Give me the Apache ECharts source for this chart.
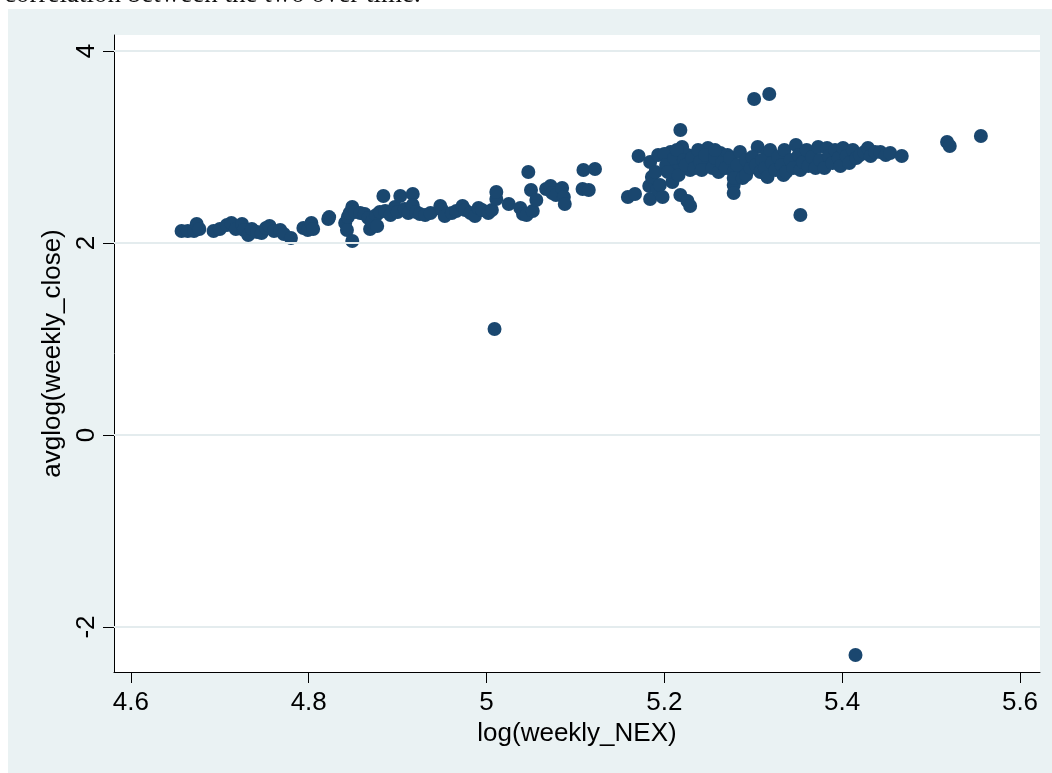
<!DOCTYPE html>
<html>
<head>
<meta charset="utf-8">
<script src="https://cdn.jsdelivr.net/npm/echarts@6/dist/echarts.min.js"></script>
<style>
html,body{margin:0;padding:0;background:#fff;}
#c{width:1052px;height:773px;}
</style>
</head>
<body>
<div id="c"></div>
<script>
// ---- data ----
const xTicks = [4.6, 4.8, 5.0, 5.2, 5.4, 5.6];
const yTicks = [-2, 0, 2, 4];
const xTitle = 'log(weekly_NEX)';
const yTitle = 'avglog(weekly_close)';
const topText = 'correlation between the two over time.';

// low-NEX cluster
const clusterA = [
  [4.657,2.125],[4.664,2.125],[4.671,2.125],[4.674,2.198],[4.677,2.146],[4.693,2.125],
  [4.700,2.146],[4.708,2.188],[4.713,2.208],[4.718,2.146],[4.725,2.198],[4.727,2.135],
  [4.732,2.083],[4.736,2.146],[4.742,2.115],[4.747,2.104],[4.752,2.156],[4.756,2.177],
  [4.761,2.125],[4.768,2.135],[4.772,2.094],[4.780,2.052],[4.794,2.156],[4.799,2.135],
  [4.803,2.208],[4.805,2.146],[4.822,2.250],[4.823,2.270]
];
// middle cluster
const clusterB = [
  [4.841,2.208],[4.843,2.135],[4.844,2.271],[4.846,2.313],[4.849,2.375],[4.849,2.021],
  [4.852,2.323],[4.858,2.313],[4.863,2.302],[4.867,2.260],[4.869,2.146],[4.871,2.219],
  [4.876,2.292],[4.877,2.177],[4.880,2.323],[4.884,2.490],[4.886,2.333],[4.892,2.292],
  [4.897,2.375],[4.900,2.323],[4.903,2.490],[4.908,2.354],[4.912,2.313],[4.917,2.510],
  [4.917,2.396],[4.921,2.323],[4.925,2.302],[4.931,2.292],[4.937,2.313],[4.948,2.385],
  [4.950,2.344],[4.953,2.281],[4.961,2.313],[4.966,2.333],[4.973,2.385],[4.976,2.344],
  [4.982,2.313],[4.987,2.281],[4.991,2.365],[4.995,2.344],[5.002,2.313],[5.006,2.344],
  [5.011,2.458],[5.011,2.531],[5.009,1.104]
];
// rising section
const clusterC = [
  [5.025,2.406],[5.038,2.365],[5.041,2.302],[5.045,2.292],[5.047,2.740],[5.050,2.552],
  [5.052,2.333],[5.056,2.448],[5.067,2.563],[5.072,2.594],[5.074,2.521],[5.078,2.500],
  [5.085,2.573],[5.087,2.479],[5.088,2.406],[5.109,2.760],[5.122,2.771],[5.108,2.563],
  [5.115,2.552],[5.159,2.479],[5.167,2.510],[5.171,2.906],[5.184,2.844],[5.183,2.594],
  [5.184,2.458],[5.186,2.688],[5.190,2.740],[5.192,2.563],[5.193,2.917],[5.195,2.604],
  [5.198,2.479],[5.207,2.948],[5.209,2.635],[5.213,2.792],[5.218,3.177],[5.218,2.500],
  [5.220,3.000],[5.226,2.438],[5.229,2.385],[5.226,2.917],[5.229,2.760],[5.237,2.938],
  [5.249,2.990],[5.252,2.833],[5.263,2.938],[5.271,2.917],[5.278,2.604],[5.278,2.521],
  [5.289,2.729],[5.305,3.000],[5.316,2.938],[5.301,3.500],[5.318,3.552],[5.353,2.292],
  [5.415,-2.292]
];
// dense high-NEX band and right tail
const clusterD = [
  [5.200,2.927],[5.202,2.813],[5.204,2.740],[5.211,2.885],[5.214,2.969],[5.216,2.708],
  [5.222,2.865],[5.224,2.813],[5.231,2.885],[5.234,2.781],[5.238,2.969],[5.240,2.844],
  [5.242,2.760],[5.246,2.917],[5.254,2.781],[5.257,2.885],[5.257,2.969],[5.261,2.740],
  [5.265,2.833],[5.269,2.781],[5.274,2.885],[5.278,2.740],[5.278,2.677],[5.282,2.813],
  [5.285,2.948],[5.288,2.677],[5.292,2.865],[5.292,2.708],[5.297,2.781],[5.299,2.896],
  [5.303,2.813],[5.308,2.740],[5.310,2.865],[5.313,2.781],[5.316,2.688],[5.319,2.969],
  [5.321,2.833],[5.325,2.760],[5.328,2.896],[5.332,2.813],[5.334,2.708],[5.335,2.969],
  [5.337,2.740],[5.342,2.865],[5.345,2.781],[5.348,3.021],[5.351,2.917],[5.353,2.760],
  [5.356,2.844],[5.360,2.969],[5.362,2.802],[5.366,2.896],[5.370,2.781],[5.373,3.000],
  [5.375,2.865],[5.380,2.781],[5.383,2.990],[5.385,2.906],[5.389,2.833],[5.392,2.969],
  [5.396,2.885],[5.398,2.802],[5.401,2.990],[5.405,2.906],[5.408,2.833],[5.412,2.969],
  [5.416,2.885],[5.420,2.917],[5.425,2.948],[5.429,2.990],[5.432,2.906],[5.437,2.948],
  [5.443,2.948],[5.449,2.917],[5.454,2.938],[5.467,2.906],
  [5.518,3.052],[5.521,3.010],[5.556,3.115]
];

const points = clusterA.concat(clusterB, clusterC, clusterD);

// ---- chart ----
const chart = echarts.init(document.getElementById('c'), null, {renderer: 'canvas'});
const FONT = '"Liberation Sans", Arial, Helvetica, sans-serif';
const BG = '#EAF2F3';
const NAVY = '#1A476F';

const option = {
  animation: false,
  backgroundColor: '#ffffff',
  graphic: [
    {type: 'rect', z: -100, shape: {x: 8, y: 9, width: 1044, height: 764}, style: {fill: BG}},
    {type: 'text', z: -50, x: 4, y: 8, style: {text: topText, fill: '#111', fontSize: 27, fontFamily: '"Liberation Serif", "Times New Roman", serif', verticalAlign: 'bottom', align: 'left'}}
  ],
  grid: {left: 114, right: 12, top: 35, bottom: 101, show: true, backgroundColor: '#ffffff', borderWidth: 0, containLabel: false},
  xAxis: {
    type: 'value', min: 4.581, max: 5.6225,
    name: xTitle, nameLocation: 'middle', nameGap: 46,
    nameTextStyle: {fontFamily: FONT, fontSize: 26, color: '#000'},
    axisLine: {show: true, onZero: false, lineStyle: {color: '#000', width: 1}},
    axisTick: {show: true, length: 11, customValues: xTicks, lineStyle: {color: '#000', width: 1}},
    axisLabel: {show: true, customValues: xTicks, margin: 18, fontFamily: FONT, fontSize: 26, color: '#000',
      formatter: v => (Math.round(v * 10) / 10).toString()},
    splitLine: {show: false}
  },
  yAxis: {
    type: 'value', min: -2.469, max: 4.167,
    name: yTitle, nameLocation: 'middle', nameGap: 44, nameRotate: 90,
    nameTextStyle: {fontFamily: FONT, fontSize: 26, color: '#000'},
    axisLine: {show: true, onZero: false, lineStyle: {color: '#000', width: 1}},
    axisTick: {show: true, length: 11, customValues: yTicks, lineStyle: {color: '#000', width: 1}},
    axisLabel: {show: true, customValues: yTicks, rotate: 90, margin: 14, fontFamily: FONT, fontSize: 26, color: '#000',
      formatter: v => Math.round(v).toString()},
    splitLine: {show: false}
  },
  series: [
    {
      type: 'scatter', data: [], z: 1, silent: true,
      markLine: {
        silent: true, symbol: 'none', animation: false,
        label: {show: false},
        lineStyle: {color: '#E4ECEE', width: 2, type: 'solid'},
        data: yTicks.map(v => ({yAxis: v}))
      }
    },
    {
      type: 'scatter', z: 2,
      data: points,
      symbol: 'circle', symbolSize: 14,
      itemStyle: {color: NAVY, opacity: 1}
    }
  ]
};
chart.setOption(option);
</script>
</body>
</html>
